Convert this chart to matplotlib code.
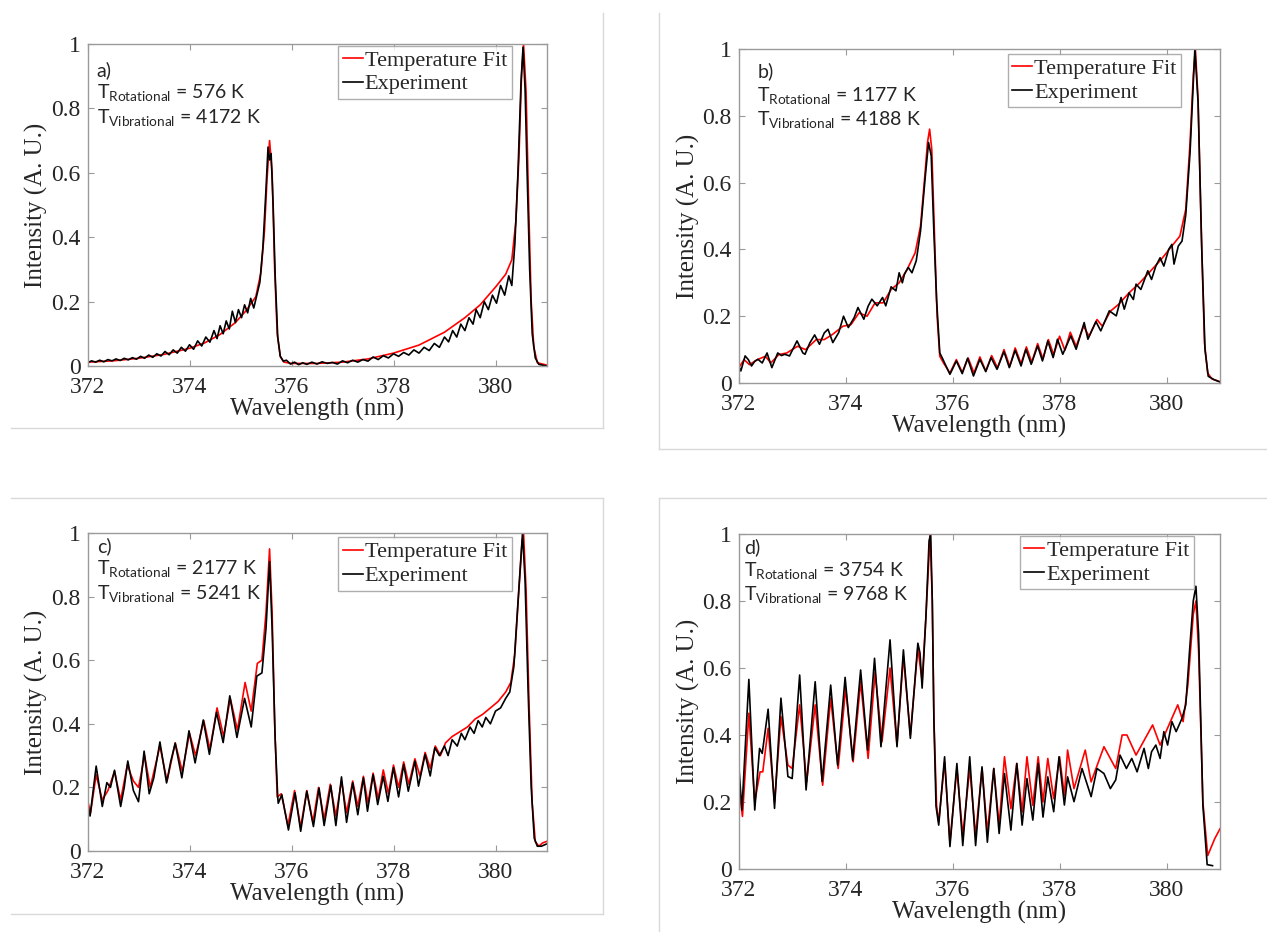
import matplotlib
matplotlib.use("Agg")
import matplotlib.pyplot as plt
from matplotlib.lines import Line2D

# ---- dados (comprimento de onda em nm, intensidade normalizada) ----

# a) T_rot = 576 K
a_fit_x = [372.0, 372.5, 373.0, 373.5, 374.0, 374.3, 374.6, 374.9, 375.1, 375.3, 375.4, 375.47,
           375.52, 375.57, 375.62, 375.67, 375.72, 375.78, 375.85, 376.0, 376.5, 377.0, 377.5,
           378.0, 378.5, 379.0, 379.4, 379.7, 380.0, 380.2, 380.32, 380.4, 380.46, 380.51,
           380.55, 380.6, 380.65, 380.7, 380.75, 380.82, 381.0]
a_fit_y = [0.012, 0.016, 0.024, 0.036, 0.055, 0.072, 0.098, 0.135, 0.17, 0.215, 0.29, 0.42,
           0.58, 0.70, 0.6, 0.3, 0.1, 0.03, 0.012, 0.008, 0.008, 0.012, 0.022,
           0.04, 0.065, 0.105, 0.15, 0.19, 0.245, 0.285, 0.33, 0.45, 0.65, 0.9,
           1.0, 0.85, 0.5, 0.2, 0.06, 0.01, 0.003]
a_exp_x = [372.0, 372.08, 372.16, 372.24, 372.32, 372.4, 372.48, 372.56, 372.64, 372.72, 372.8,
           372.88, 372.96, 373.04, 373.12, 373.2, 373.28, 373.36, 373.44, 373.52, 373.6, 373.68,
           373.76, 373.84, 373.92, 374.0, 374.08, 374.16, 374.24, 374.32, 374.4, 374.48, 374.54,
           374.6, 374.66, 374.72, 374.78, 374.84, 374.9, 374.96, 375.02, 375.08, 375.14, 375.2,
           375.26, 375.32, 375.38, 375.44, 375.5, 375.54, 375.57, 375.6, 375.64, 375.68, 375.73,
           375.78, 375.84, 375.9, 375.98, 376.06, 376.14, 376.22, 376.3, 376.4, 376.5, 376.6,
           376.7, 376.8, 376.9, 377.0, 377.1, 377.2, 377.3, 377.4, 377.5, 377.6, 377.7, 377.8,
           377.9, 378.0, 378.1, 378.2, 378.3, 378.4, 378.5, 378.6, 378.7, 378.8, 378.9, 379.0,
           379.08, 379.16, 379.24, 379.32, 379.4, 379.48, 379.56, 379.62, 379.7, 379.78, 379.86,
           379.94, 380.02, 380.1, 380.18, 380.26, 380.32, 380.38, 380.44, 380.5, 380.54, 380.58,
           380.62, 380.67, 380.72, 380.78, 380.85, 381.0]
a_exp_y = [0.010, 0.016, 0.012, 0.018, 0.013, 0.02, 0.016, 0.022, 0.017, 0.024, 0.019,
           0.026, 0.021, 0.03, 0.024, 0.034, 0.027, 0.038, 0.031, 0.045, 0.035, 0.05,
           0.04, 0.058, 0.046, 0.066, 0.052, 0.078, 0.062, 0.09, 0.074, 0.11, 0.085,
           0.125, 0.1, 0.14, 0.115, 0.17, 0.135, 0.175, 0.15, 0.19, 0.165, 0.21,
           0.18, 0.22, 0.26, 0.37, 0.55, 0.68, 0.64, 0.66, 0.5, 0.28, 0.09,
           0.03, 0.015, 0.018, 0.006, 0.012, 0.004, 0.01, 0.005, 0.012, 0.006, 0.013,
           0.008, 0.011, 0.006, 0.016, 0.01, 0.018, 0.012, 0.02, 0.015, 0.028, 0.02, 0.032,
           0.025, 0.038, 0.03, 0.042, 0.034, 0.05, 0.04, 0.058, 0.048, 0.07, 0.058, 0.09,
           0.075, 0.11, 0.09, 0.13, 0.11, 0.15, 0.13, 0.175, 0.15, 0.2, 0.175,
           0.22, 0.195, 0.25, 0.22, 0.28, 0.25, 0.38, 0.6, 0.88, 0.99, 0.86,
           0.6, 0.3, 0.1, 0.025, 0.005, 0.0]

# b) T_rot = 1177 K
b_fit_x = [372.0, 372.1, 372.2, 372.35, 372.5, 372.6, 372.75, 372.9, 373.1, 373.25, 373.45, 373.6,
           373.75, 373.95, 374.1, 374.25, 374.4, 374.55, 374.7, 374.85, 375.0, 375.15, 375.3,
           375.4, 375.48, 375.53, 375.57, 375.61, 375.66, 375.71, 375.76, 375.83, 375.95, 376.07,
           376.18, 376.29, 376.4, 376.51, 376.62, 376.73, 376.84, 376.96, 377.07, 377.17, 377.28,
           377.38, 377.48, 377.59, 377.69, 377.79, 377.89, 378.0, 378.1, 378.2, 378.31, 378.45,
           378.55, 378.7, 378.8, 378.95, 379.1, 379.3, 379.5, 379.7, 379.9, 380.1, 380.25,
           380.36, 380.44, 380.5, 380.54, 380.59, 380.65, 380.71, 380.77, 380.85, 381.0]
b_fit_y = [0.045, 0.07, 0.055, 0.07, 0.08, 0.06, 0.085, 0.09, 0.11, 0.1, 0.13, 0.13,
           0.145, 0.17, 0.175, 0.21, 0.2, 0.24, 0.24, 0.28, 0.3, 0.34, 0.39,
           0.47, 0.62, 0.72, 0.76, 0.7, 0.45, 0.2, 0.08, 0.06, 0.03, 0.07,
           0.032, 0.075, 0.03, 0.078, 0.036, 0.082, 0.045, 0.1, 0.05, 0.105, 0.058,
           0.108, 0.062, 0.118, 0.072, 0.13, 0.085, 0.14, 0.098, 0.152, 0.11, 0.17,
           0.14, 0.19, 0.17, 0.215, 0.235, 0.27, 0.3, 0.335, 0.37, 0.41, 0.44,
           0.52, 0.72, 0.92, 1.0, 0.85, 0.45, 0.12, 0.03, 0.012, 0.004]
b_exp_x = [372.0, 372.04, 372.12, 372.18, 372.24, 372.3, 372.36, 372.44, 372.53, 372.62, 372.73,
           372.8, 372.86, 372.95, 373.09, 373.2, 373.24, 373.33, 373.42, 373.51, 373.6, 373.67,
           373.76, 373.87, 373.96, 374.05, 374.16, 374.23, 374.34, 374.42, 374.49, 374.59, 374.69,
           374.75, 374.85, 374.94, 375.0, 375.06, 375.1, 375.17, 375.24, 375.32, 375.4, 375.49,
           375.55, 375.6, 375.65, 375.7, 375.76, 375.81, 375.85, 375.95, 376.07, 376.18, 376.28,
           376.39, 376.51, 376.62, 376.72, 376.83, 376.96, 377.06, 377.17, 377.28, 377.37, 377.47,
           377.59, 377.68, 377.78, 377.88, 377.96, 378.06, 378.21, 378.31, 378.46, 378.53, 378.68,
           378.77, 378.93, 379.06, 379.15, 379.21, 379.3, 379.38, 379.43, 379.52, 379.65, 379.72,
           379.8, 379.88, 379.95, 380.04, 380.1, 380.14, 380.22, 380.29, 380.36, 380.44, 380.53,
           380.59, 380.66, 380.72, 380.78, 380.89, 381.0]
b_exp_y = [0.051, 0.036, 0.081, 0.07, 0.051, 0.065, 0.071, 0.06, 0.09, 0.046, 0.09,
           0.082, 0.086, 0.081, 0.126, 0.09, 0.086, 0.12, 0.144, 0.116, 0.15, 0.161,
           0.121, 0.151, 0.2, 0.166, 0.196, 0.226, 0.191, 0.23, 0.251, 0.231, 0.256,
           0.231, 0.288, 0.276, 0.33, 0.30, 0.326, 0.346, 0.33, 0.366, 0.455, 0.62,
           0.72, 0.68, 0.45, 0.25, 0.09, 0.074, 0.06, 0.026, 0.066, 0.028, 0.074,
           0.021, 0.071, 0.034, 0.076, 0.041, 0.094, 0.046, 0.098, 0.051, 0.101, 0.056,
           0.111, 0.066, 0.126, 0.076, 0.131, 0.086, 0.141, 0.101, 0.181, 0.131, 0.184,
           0.156, 0.216, 0.201, 0.256, 0.221, 0.27, 0.25, 0.296, 0.28, 0.336, 0.31,
           0.35, 0.375, 0.35, 0.4, 0.415, 0.356, 0.41, 0.425, 0.504, 0.69, 1.0,
           0.84, 0.395, 0.099, 0.02, 0.01, 0.003]

# c) T_rot = 2177 K
c_fit_x = [372.0, 372.06, 372.17, 372.29, 372.4, 372.53, 372.65, 372.78, 372.9, 373.0, 373.12,
           373.23, 373.42, 373.56, 373.72, 373.86, 374.0, 374.12, 374.28, 374.4, 374.54, 374.67,
           374.8, 374.94, 375.09, 375.21, 375.33, 375.42, 375.5, 375.57, 375.62, 375.67, 375.72,
           375.8, 375.93, 376.06, 376.18, 376.3, 376.42, 376.53, 376.64, 376.76, 376.87, 376.98,
           377.08, 377.2, 377.3, 377.41, 377.5, 377.6, 377.7, 377.8, 377.9, 378.0, 378.1,
           378.2, 378.3, 378.42, 378.52, 378.62, 378.72, 378.82, 378.92, 379.02, 379.15, 379.3,
           379.45, 379.6, 379.75, 379.9, 380.05, 380.2, 380.3, 380.38, 380.45, 380.52, 380.55,
           380.6, 380.66, 380.72, 380.78, 380.85, 380.92, 381.0]
c_fit_y = [0.16, 0.12, 0.24, 0.16, 0.19, 0.25, 0.16, 0.27, 0.22, 0.2, 0.3,
           0.2, 0.33, 0.22, 0.34, 0.25, 0.37, 0.3, 0.41, 0.32, 0.45, 0.36,
           0.48, 0.38, 0.53, 0.44, 0.59, 0.6, 0.75, 0.95, 0.75, 0.4, 0.17,
           0.18, 0.08, 0.19, 0.075, 0.19, 0.09, 0.2, 0.1, 0.21, 0.11, 0.22,
           0.12, 0.22, 0.14, 0.235, 0.15, 0.245, 0.165, 0.255, 0.18, 0.27, 0.2,
           0.28, 0.21, 0.29, 0.235, 0.31, 0.26, 0.33, 0.3, 0.34, 0.36, 0.375,
           0.39, 0.415, 0.43, 0.45, 0.47, 0.5, 0.53, 0.62, 0.8, 0.97, 1.0,
           0.82, 0.45, 0.15, 0.03, 0.015, 0.025, 0.03]
c_exp_x = [372.0, 372.05, 372.17, 372.29, 372.38, 372.45, 372.53, 372.65, 372.72, 372.79, 372.9,
           373.0, 373.11, 373.21, 373.3, 373.42, 373.55, 373.63, 373.72, 373.85, 373.99, 374.11,
           374.27, 374.39, 374.53, 374.66, 374.79, 374.93, 375.08, 375.21, 375.32, 375.42, 375.5,
           375.57, 375.62, 375.68, 375.73, 375.74, 375.81, 375.94, 376.07, 376.18, 376.3, 376.43,
           376.54, 376.64, 376.77, 376.87, 376.98, 377.08, 377.2, 377.3, 377.41, 377.49, 377.6,
           377.69, 377.8, 377.89, 378.0, 378.1, 378.2, 378.29, 378.42, 378.49, 378.62, 378.72,
           378.81, 378.9, 379.0, 379.07, 379.15, 379.25, 379.33, 379.4, 379.5, 379.58, 379.66,
           379.74, 379.81, 379.9, 380.0, 380.1, 380.2, 380.28, 380.36, 380.44, 380.53, 380.58,
           380.64, 380.7, 380.76, 380.82, 380.9, 381.0]
c_exp_y = [0.15, 0.11, 0.267, 0.14, 0.215, 0.2, 0.254, 0.14, 0.2, 0.283, 0.19,
           0.155, 0.314, 0.18, 0.23, 0.343, 0.214, 0.28, 0.339, 0.23, 0.378, 0.277,
           0.412, 0.304, 0.436, 0.341, 0.488, 0.357, 0.48, 0.39, 0.55, 0.56, 0.7,
           0.91, 0.7, 0.35, 0.17, 0.15, 0.177, 0.066, 0.183, 0.062, 0.188, 0.077,
           0.198, 0.08, 0.206, 0.08, 0.233, 0.09, 0.215, 0.114, 0.23, 0.125, 0.24,
           0.146, 0.235, 0.156, 0.262, 0.17, 0.272, 0.188, 0.283, 0.204, 0.304, 0.236,
           0.325, 0.3, 0.33, 0.3, 0.35, 0.33, 0.37, 0.35, 0.39, 0.37, 0.41,
           0.39, 0.42, 0.4, 0.44, 0.45, 0.48, 0.5, 0.58, 0.78, 1.0, 0.85,
           0.5, 0.2, 0.04, 0.015, 0.015, 0.022]

# d) T_rot = 3754 K
d_fit_x = [372.0, 372.07, 372.19, 372.3, 372.4, 372.45, 372.55, 372.67, 372.79, 372.92, 373.0,
           373.14, 373.27, 373.43, 373.57, 373.72, 373.86, 374.0, 374.14, 374.28, 374.42, 374.55,
           374.68, 374.83, 374.96, 375.08, 375.21, 375.35, 375.43, 375.5, 375.58, 375.62, 375.65,
           375.7, 375.74, 375.85, 375.95, 376.08, 376.19, 376.32, 376.43, 376.55, 376.65, 376.77,
           376.87, 376.97, 377.09, 377.2, 377.3, 377.39, 377.5, 377.6, 377.69, 377.78, 377.89,
           378.0, 378.09, 378.15, 378.27, 378.48, 378.59, 378.83, 379.05, 379.17, 379.26, 379.43,
           379.74, 379.88, 380.21, 380.31, 380.4, 380.5, 380.55, 380.6, 380.68, 380.77, 380.9,
           381.0]
d_fit_y = [0.25, 0.157, 0.465, 0.2, 0.29, 0.29, 0.42, 0.2, 0.455, 0.31, 0.3,
           0.49, 0.26, 0.49, 0.25, 0.51, 0.3, 0.54, 0.32, 0.56, 0.33, 0.587,
           0.38, 0.6, 0.37, 0.634, 0.4, 0.66, 0.56, 0.75, 1.0, 0.8, 0.45,
           0.19, 0.14, 0.32, 0.08, 0.3, 0.1, 0.3, 0.1, 0.3, 0.11, 0.3,
           0.13, 0.335, 0.18, 0.315, 0.17, 0.335, 0.19, 0.335, 0.2, 0.33, 0.21,
           0.335, 0.22, 0.355, 0.24, 0.355, 0.26, 0.365, 0.3, 0.4, 0.4, 0.34,
           0.43, 0.37, 0.49, 0.44, 0.55, 0.76, 0.8, 0.65, 0.2, 0.04, 0.09,
           0.12]
d_exp_x = [372.0, 372.01, 372.06, 372.19, 372.3, 372.39, 372.44, 372.55, 372.67, 372.79, 372.92,
           373.0, 373.14, 373.26, 373.43, 373.56, 373.72, 373.85, 373.99, 374.13, 374.28, 374.41,
           374.54, 374.66, 374.83, 374.96, 375.08, 375.21, 375.35, 375.39, 375.43, 375.5, 375.56,
           375.59, 375.62, 375.65, 375.69, 375.74, 375.85, 375.95, 376.08, 376.19, 376.32, 376.43,
           376.55, 376.65, 376.77, 376.87, 376.97, 377.09, 377.2, 377.3, 377.39, 377.5, 377.6,
           377.69, 377.78, 377.89, 377.99, 378.09, 378.15, 378.27, 378.42, 378.59, 378.7, 378.83,
           378.95, 379.05, 379.13, 379.25, 379.35, 379.45, 379.58, 379.66, 379.72, 379.8, 379.88,
           379.95, 380.02, 380.1, 380.18, 380.29, 380.36, 380.43, 380.5, 380.55, 380.6, 380.68,
           380.76, 380.86]
d_exp_y = [0.335, 0.29, 0.176, 0.566, 0.176, 0.36, 0.345, 0.477, 0.181, 0.51, 0.276,
           0.27, 0.579, 0.236, 0.559, 0.261, 0.549, 0.31, 0.572, 0.325, 0.594, 0.355,
           0.629, 0.365, 0.684, 0.365, 0.654, 0.39, 0.674, 0.645, 0.54, 0.75, 0.98,
           1.0, 0.8, 0.445, 0.187, 0.131, 0.335, 0.067, 0.315, 0.07, 0.335, 0.07,
           0.305, 0.08, 0.3, 0.106, 0.285, 0.116, 0.315, 0.131, 0.27, 0.146, 0.315,
           0.155, 0.275, 0.171, 0.335, 0.191, 0.275, 0.201, 0.3, 0.216, 0.3, 0.285,
           0.24, 0.266, 0.34, 0.3, 0.33, 0.29, 0.36, 0.3, 0.35, 0.37, 0.33,
           0.41, 0.37, 0.44, 0.41, 0.45, 0.49, 0.65, 0.8, 0.844, 0.7, 0.19,
           0.013, 0.01]

paineis = [
    ("a)", "576", "4172", a_fit_x, a_fit_y, a_exp_x, a_exp_y),
    ("b)", "1177", "4188", b_fit_x, b_fit_y, b_exp_x, b_exp_y),
    ("c)", "2177", "5241", c_fit_x, c_fit_y, c_exp_x, c_exp_y),
    ("d)", "3754", "9768", d_fit_x, d_fit_y, d_exp_x, d_exp_y),
]

x_ticks = [372, 374, 376, 378, 380]
y_ticks = [0, 0.2, 0.4, 0.6, 0.8, 1]
y_tick_labels = ["0", "0.2", "0.4", "0.6", "0.8", "1"]

# ---- estilo ----
W, H = 1267, 932
plt.rcParams["font.family"] = ["Liberation Serif", "DejaVu Serif"]
plt.rcParams["mathtext.fontset"] = "custom"
plt.rcParams["mathtext.rm"] = "Lato"
plt.rcParams["mathtext.it"] = "Lato:italic"

fig = plt.figure(figsize=(W / 100, H / 100), dpi=100)


def px_box(left, right, top, bottom):
    return [left / W, 1 - bottom / H, (right - left) / W, (bottom - top) / H]


posicoes = [
    px_box(87.5, 546.5, 44, 366),
    px_box(738.7, 1220, 49, 383),
    px_box(87.5, 546.5, 533, 851),
    px_box(738.7, 1220, 534, 869),
]
# (x legenda direita, y topo, x texto, y dos textos)
layout = [
    (0.924, 0.995, 0.02, (0.92, 0.848, 0.773)),
    (0.919, 0.986, 0.039, (0.934, 0.862, 0.79)),
    (0.924, 0.986, 0.02, (0.96, 0.888, 0.81)),
    (0.945, 0.995, 0.012, (0.962, 0.89, 0.82)),
]

cinza = "#9a9a9a"
texto = "#262626"

for (rot, trot, tvib, fx, fy, ex, ey), pos, lay in zip(paineis, posicoes, layout):
    ax = fig.add_axes(pos)
    ax.plot(fx, fy, color="red", lw=1.2, solid_joinstyle="round", label="Temperature Fit")
    ax.plot(ex, ey, color="black", lw=1.2, solid_joinstyle="round", label="Experiment")
    ax.set_xlim(372, 381)
    ax.set_ylim(0, 1)
    ax.set_xticks(x_ticks)
    ax.set_yticks(y_ticks)
    ax.set_yticklabels(y_tick_labels)
    ax.tick_params(direction="in", top=True, right=True, length=4, width=0.8,
                   color=cinza, labelcolor=texto, labelsize=17)
    ax.tick_params(axis="x", pad=8)
    ax.tick_params(axis="y", pad=5)
    for s in ax.spines.values():
        s.set_color(cinza)
        s.set_linewidth(1.0)
    ax.set_xlabel("Wavelength (nm)", fontsize=18, color=texto, labelpad=0)
    ax.set_ylabel("Intensity (A. U.)", fontsize=18, color=texto, labelpad=2)

    leg = ax.legend(loc="upper right", bbox_to_anchor=(lay[0], lay[1]), fontsize=16,
                    frameon=True, fancybox=False, handlelength=0.9, handletextpad=0.1,
                    borderpad=0.2, borderaxespad=0, labelspacing=0.15)
    leg.get_frame().set_edgecolor(cinza)
    leg.get_frame().set_linewidth(1.0)
    for t in leg.get_texts():
        t.set_color(texto)

    tx = lay[2]
    ty = lay[3]
    fonte = dict(family=["Lato", "DejaVu Sans"], color=texto, va="center", ha="left",
                 transform=ax.transAxes)
    ax.text(tx, ty[0], rot, fontsize=14, **fonte)
    ax.text(tx, ty[1], r"T$_{\mathrm{Rotational}}$ = " + trot + " K", fontsize=14, **fonte)
    ax.text(tx, ty[2], r"T$_{\mathrm{Vibrational}}$ = " + tvib + " K", fontsize=14, **fonte)

# molduras cinza claras de cada sub-figura
molduras = [
    ((603, 603), (13, 428)), ((11, 603), (428, 428)),
    ((659, 659), (13, 449)), ((659, 1267), (449, 449)),
    ((11, 603), (498, 498)), ((603, 603), (498, 914)), ((11, 603), (914, 914)),
    ((659, 1267), (498, 498)), ((659, 659), (498, 932)),
]
for xs, ys in molduras:
    fig.add_artist(Line2D([x / W for x in xs], [1 - y / H for y in ys],
                          transform=fig.transFigure, color="#d9d9d9", lw=1.0))

fig.savefig("out.png", dpi=100)
